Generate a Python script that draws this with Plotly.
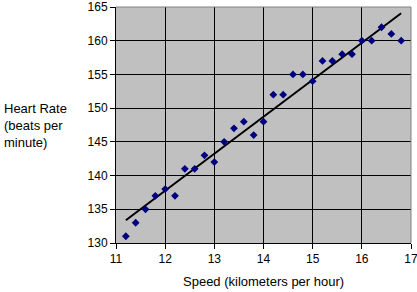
import numpy as np
import plotly.graph_objects as go

speed = [11.2, 11.4, 11.6, 11.8, 12.0, 12.2, 12.4, 12.6, 12.8, 13.0, 13.2, 13.4, 13.6, 13.8, 14.0,
         14.2, 14.4, 14.6, 14.8, 15.0, 15.2, 15.4, 15.6, 15.8, 16.0, 16.2, 16.4, 16.6, 16.8]
heart_rate = [131, 133, 135, 137, 138, 137, 141, 141, 143, 142, 145, 147, 148, 146, 148,
              152, 152, 155, 155, 154, 157, 157, 158, 158, 160, 160, 162, 161, 160]
x_ticks = [11, 12, 13, 14, 15, 16, 17]
y_ticks = [130, 135, 140, 145, 150, 155, 160, 165]

slope, intercept = np.polyfit(speed, heart_rate, 1)
fit_x = [min(speed), max(speed)]
fit_y = [slope * v + intercept for v in fit_x]

font = "Liberation Sans, Arial, sans-serif"

fig = go.Figure()
fig.add_trace(go.Scatter(x=fit_x, y=fit_y, mode="lines",
                         line=dict(color="black", width=2), hoverinfo="skip"))
fig.add_trace(go.Scatter(x=speed, y=heart_rate, mode="markers",
                         marker=dict(symbol="diamond", size=6, color="#000080")))

fig.update_layout(
    width=417, height=292,
    margin=dict(l=116, r=6, t=7, b=49),
    paper_bgcolor="white", plot_bgcolor="#c0c0c0",
    showlegend=False,
    font=dict(family=font, size=12, color="black"),
    xaxis=dict(range=[11, 17], tickvals=x_ticks, ticktext=[str(v) for v in x_ticks],
               showgrid=True, gridcolor="black", gridwidth=1,
               showline=True, linecolor="black", linewidth=1,
               ticks="outside", ticklen=5, tickcolor="black", zeroline=False,
               ticklabeloverflow="allow", automargin=False, tickfont=dict(size=12)),
    yaxis=dict(range=[130, 165], tickvals=y_ticks, ticktext=[str(v) for v in y_ticks],
               showgrid=True, gridcolor="black", gridwidth=1,
               showline=True, linecolor="black", linewidth=1,
               ticks="outside", ticklen=5, tickcolor="black", zeroline=False,
               ticklabeloverflow="allow", automargin=False, tickfont=dict(size=12)),
    shapes=[
        dict(type="line", xref="paper", yref="paper", x0=0, x1=1, y0=1, y1=1,
             line=dict(color="#808080", width=1)),
        dict(type="line", xref="paper", yref="paper", x0=1, x1=1, y0=0, y1=1,
             line=dict(color="#808080", width=1)),
    ],
    annotations=[
        dict(text="Heart Rate<br>(beats per<br>minute)", xref="paper", yref="paper",
             x=-114/295, y=0.496, xanchor="left", yanchor="middle", align="left",
             showarrow=False, font=dict(size=13)),
        dict(text="Speed (kilometers per hour)", xref="paper", yref="paper",
             x=0.5, y=-38/236, xanchor="center", yanchor="middle",
             showarrow=False, font=dict(size=13)),
    ],
)

fig.write_html("out.html")
